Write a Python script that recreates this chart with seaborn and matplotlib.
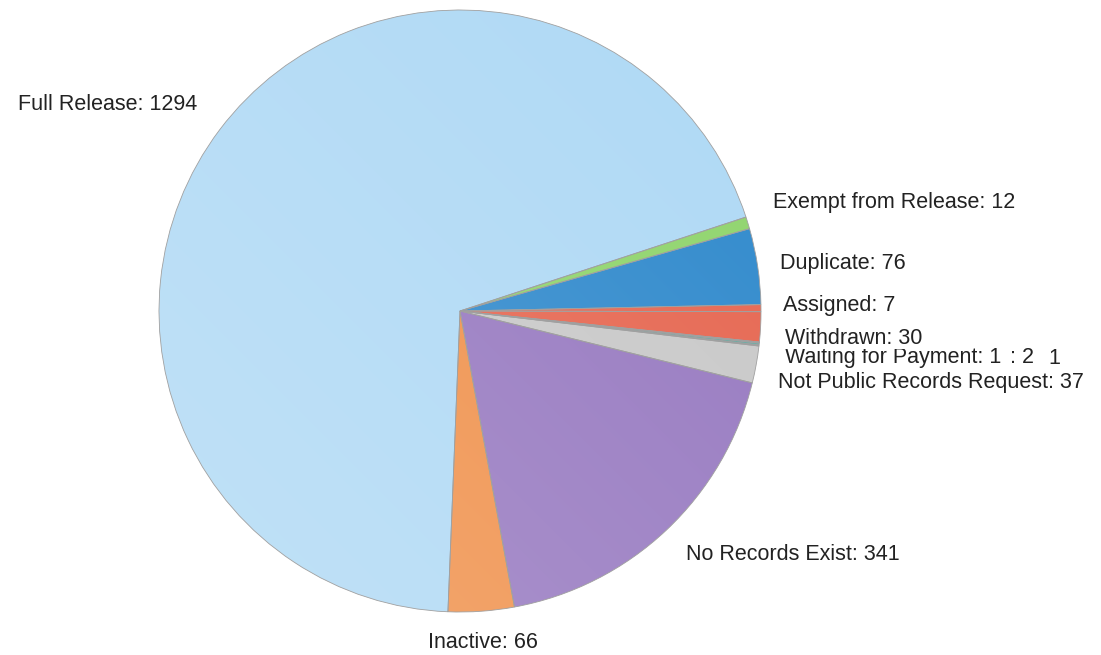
import numpy as np
import matplotlib
matplotlib.use("Agg")
import matplotlib.pyplot as plt
import matplotlib.colors as mcolors
import seaborn as sns

sns.set_theme(style="white")
plt.rcParams['font.family'] = ['Liberation Sans', 'DejaVu Sans']

statuses = ["Full Release", "Exempt from Release", "Duplicate", "Assigned", "Withdrawn",
            "Waiting for Payment", "", "", "Not Public Records Request",
            "No Records Exist", "Inactive"]
counts = [1294, 12, 76, 7, 30, 1, 2, 1, 37, 341, 66]
colors = ["#afd9f5", "#8fd46c", "#2f89cc", "#e6654f", "#e6654f", "#5c9c96",
          "#6aa8a0", "#5c9c96", "#c8c8c8", "#9678c0", "#f0904a"]

# where each label sits (pixels in the reference picture)
label_px = [(197, 104, "right"), (773, 202, "left"), (780, 263, "left"),
            (783, 305, "left"), (785, 338, "left"), (785, 357, "left"),
            (1010, 357, "left"), (1048, 358, "left"), (778, 382, "left"),
            (686, 555, "left"), (483, 642, "center")]

W, H = 1101, 655
cx, cy, R = 460, 311, 301

fig = plt.figure(figsize=(W / 100, H / 100), dpi=100)
ax = fig.add_axes([0, 0, 1, 1])

wedges, _ = ax.pie(counts, colors=colors, startangle=267.7, counterclock=False,
                   radius=1, center=(0, 0),
                   wedgeprops=dict(edgecolor="#a0a0a0", linewidth=0.6))

# soft diagonal gradient on each slice
grid = np.linspace(0, 1, 200)
gx, gy = np.meshgrid(grid, grid)
ramp = (gx + (1 - gy)) / 2
for w, c in zip(wedges, colors):
    base = np.array(mcolors.to_rgb(c))
    light = base + (1 - base) * 0.22
    img = light[None, None, :] * (1 - ramp[..., None]) + base[None, None, :] * ramp[..., None]
    im = ax.imshow(img, extent=(-1, 1, -1, 1), origin="upper", zorder=w.get_zorder() + 0.1,
                   interpolation="bilinear")
    im.set_clip_path(w)
    w.set_facecolor("none")
    w.set_zorder(w.get_zorder() + 0.2)

ax.set_xlim((0 - cx) / R, (W - cx) / R)
ax.set_ylim((cy - H) / R, cy / R)
ax.set_aspect("equal", adjustable="box")
ax.axis("off")

for name, n, (px, py, ha) in zip(statuses, counts, label_px):
    txt = f"{name}: {n}" if name else (f": {n}" if n == 2 else f"{n}")
    kw = {}
    z = 10
    if name == "Withdrawn":
        kw["bbox"] = dict(facecolor="white", edgecolor="none", pad=0.5)
        z = 11
    ax.text((px - cx) / R, (cy - py) / R, txt, ha=ha, va="center",
            fontsize=15.5, color="#222222", zorder=z, **kw)

fig.savefig("out.png", dpi=100, facecolor="white")
